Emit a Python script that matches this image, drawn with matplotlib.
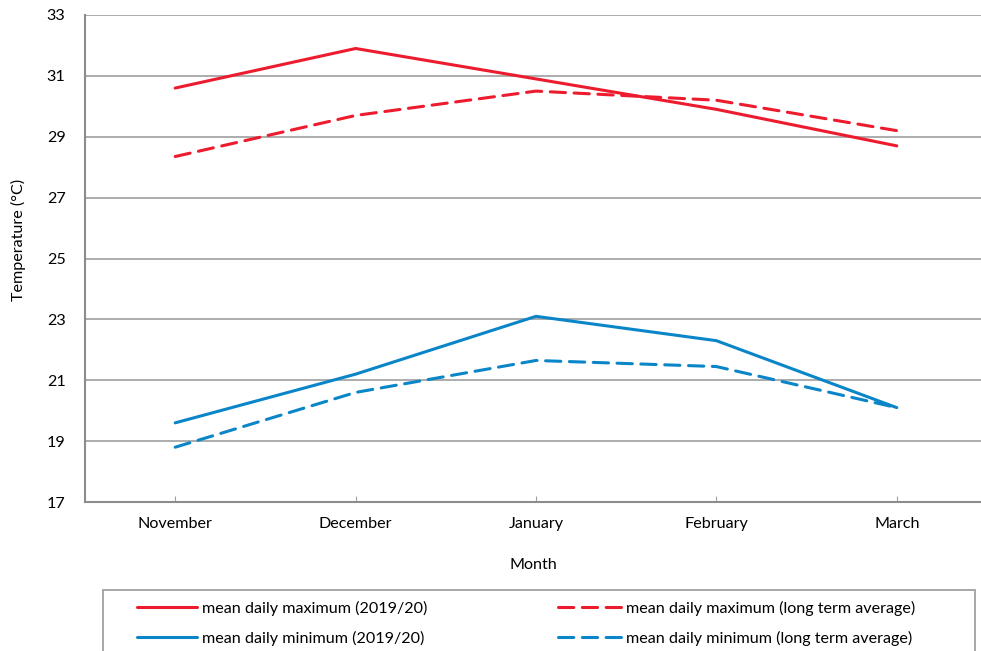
import matplotlib
matplotlib.use("Agg")
import matplotlib.pyplot as plt
from matplotlib.patches import Rectangle

plt.rcParams['font.family'] = ['Lato', 'DejaVu Sans']

months = ["November", "December", "January", "February", "March"]
max_2019 = [30.6, 31.9, 30.9, 29.9, 28.7]
max_lta = [28.35, 29.7, 30.5, 30.2, 29.2]
min_2019 = [19.6, 21.2, 23.1, 22.3, 20.1]
min_lta = [18.8, 20.6, 21.65, 21.45, 20.1]
yticks = [17, 19, 21, 23, 25, 27, 29, 31, 33]

labels = ["mean daily maximum (2019/20)", "mean daily maximum (long term average)",
          "mean daily minimum (2019/20)", "mean daily minimum (long term average)"]

RED = "#EC1C2E"
BLUE = "#0A86C8"
FS = 11.6

W, H = 981, 651
fig = plt.figure(figsize=(W / 100, H / 100), dpi=100)
ax = fig.add_axes([85 / W, 1 - 502 / H, 902 / W, 487 / H])

x = list(range(len(months)))
lw = 2.2
l1, = ax.plot(x, max_2019, color=RED, lw=lw, solid_capstyle='round')
l2, = ax.plot(x, max_lta, color=RED, lw=lw, dashes=(5, 2.8), dash_capstyle='round')
l3, = ax.plot(x, min_2019, color=BLUE, lw=lw, solid_capstyle='round')
l4, = ax.plot(x, min_lta, color=BLUE, lw=lw, dashes=(5, 2.8), dash_capstyle='round')

ax.set_xlim(-0.5, 4.5)
ax.set_ylim(17, 33)
ax.set_yticks(yticks)
ax.set_yticklabels([str(v) for v in yticks], fontsize=FS)
ax.set_xticks(x)
ax.set_xticklabels(months, fontsize=FS)
ax.tick_params(axis='y', length=0, pad=14)
ax.tick_params(axis='x', direction='in', length=4, color='#a0a0a0', pad=11)
ax.grid(axis='y', color='#a6a6a6', lw=1.3)
ax.set_axisbelow(True)
for s in ['top', 'right']:
    ax.spines[s].set_visible(False)
for s in ['left', 'bottom']:
    ax.spines[s].set_color('#8c8c8c')
    ax.spines[s].set_linewidth(1.5)

ax.set_ylabel("Temperature (°C)", fontsize=FS)
ax.yaxis.set_label_coords(-59 / 902, (502 - 240) / 487)
ax.set_xlabel("Month", fontsize=FS)
ax.xaxis.set_label_coords((533 - 85) / 902, -(558 - 502) / 487)

# legend frame
fig.patches.append(Rectangle((103 / W, 1 - 680 / H), (975 - 103) / W, 90 / H,
                             transform=fig.transFigure, fill=False,
                             edgecolor='#a0a0a0', lw=1.3))

leg1 = fig.legend([l1, l3], [labels[0], labels[2]], loc='upper left',
                  bbox_to_anchor=(137 / W, 1 - 601 / H), frameon=False,
                  fontsize=FS, handlelength=3.7, handletextpad=0.35,
                  borderpad=0, borderaxespad=0, labelspacing=0.92)
leg2 = fig.legend([l2, l4], [labels[1], labels[3]], loc='upper left',
                  bbox_to_anchor=(558 / W, 1 - 601 / H), frameon=False,
                  fontsize=FS, handlelength=3.9, handletextpad=0.35,
                  borderpad=0, borderaxespad=0, labelspacing=0.92)

fig.savefig("out.png", dpi=100)
